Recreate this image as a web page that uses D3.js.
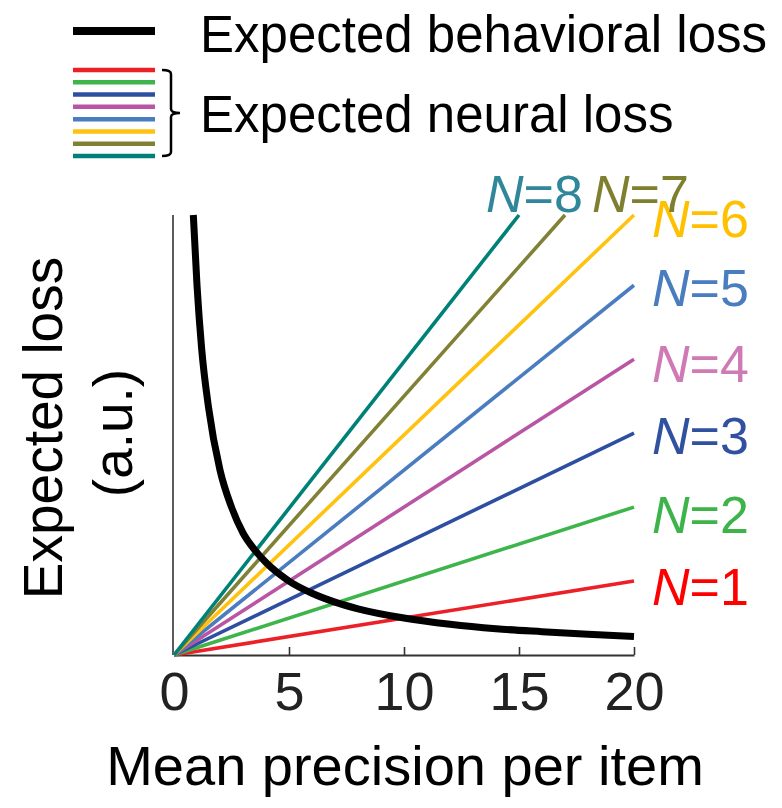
<!DOCTYPE html>
<html>
<head>
<meta charset="utf-8">
<script src="https://cdn.jsdelivr.net/npm/d3@7"></script>
<style>
    body { margin: 0; background: #fff; }
    text { font-family: "Liberation Sans", Arial, Helvetica, sans-serif; }
</style>
</head>
<body>
<div id="chart"></div>
<script>
// set size N for each neural loss line
var setSizes = [1, 2, 3, 4, 5, 6, 7, 8];
var lineColors = ["#ec2027", "#3db54a", "#2e4ea1", "#b956a4", "#4a7dc0", "#ffc20e", "#818135", "#008177"];
var labelColors = ["#ff0000", "#3cb44a", "#3050a0", "#cf7ab5", "#4a7cc0", "#ffc000", "#7f7f30", "#2f8799"];
// where each neural line ends (mean precision, loss)
var neuralEndX = [20, 20, 20, 20, 20, 20, 17, 15];
var neuralEndY = [20, 40, 60, 80, 100, 119, 119, 119];

// expected behavioral loss
var behavX = [0.84, 1, 1.2, 1.5, 2, 2.5, 3, 3.5, 4, 5, 6, 7, 8, 10, 12, 14, 16, 18, 20];
var behavY = [119, 100, 83, 67, 50, 40, 33, 28.5, 25, 20, 16.7, 14.3, 12.5, 10, 8.3, 7.1, 6.3, 5.6, 5];

var xTicks = [0, 5, 10, 15, 20];

var width = 782, height = 808;

var svg = d3.select("#chart")
            .append("svg")
                .attr("width", width)
                .attr("height", height);

var x = d3.scaleLinear().domain([0, 20]).range([174, 634]);
var y = d3.scaleLinear().domain([0, 119]).range([655, 215]);

// axes
svg.append("line")
    .attr("x1", 173).attr("x2", 173)
    .attr("y1", y(119)).attr("y2", y(0))
    .attr("stroke", "#333").attr("stroke-width", 1.6);

var xAxis = svg.append("g")
    .attr("transform", "translate(0," + y(0) + ")")
    .call(d3.axisBottom(x).tickValues(xTicks).tickSizeInner(-8).tickSizeOuter(0).tickPadding(55));
xAxis.select(".domain").attr("stroke", "#333").attr("stroke-width", 2);
xAxis.selectAll(".tick line").attr("stroke", "#333").attr("stroke-width", 1.6)
    .filter(function(d) { return d === 0; }).remove();
xAxis.selectAll(".tick text")
    .attr("font-size", 54)
    .attr("fill", "#222")
    .attr("dy", 0)
    .style("font-family", '"Liberation Sans", Arial, sans-serif');

// neural loss lines
var neural = setSizes.map(function(n, i) {
    return {n: n, color: lineColors[i], label: labelColors[i], x1: neuralEndX[i], y1: neuralEndY[i]};
});

svg.append("g")
    .selectAll("line")
    .data(neural)
    .enter()
    .append("line")
        .attr("x1", x(0)).attr("y1", y(0))
        .attr("x2", function(d) { return x(d.x1); })
        .attr("y2", function(d) { return y(d.y1); })
        .attr("stroke", function(d) { return d.color; })
        .attr("stroke-width", 3.6);

// behavioral loss curve
var behav = behavX.map(function(v, i) { return [v, behavY[i]]; });
svg.append("path")
    .datum(behav)
    .attr("fill", "none")
    .attr("stroke", "#000")
    .attr("stroke-width", 7)
    .attr("d", d3.line()
        .x(function(d) { return x(d[0]); })
        .y(function(d) { return y(d[1]); })
        .curve(d3.curveMonotoneX));

// N labels: offsets from the end of each line
var labelDx = [18, 18, 18, 18, 18, 18, 27, -33];
var labelDy = [24, 26, 21, 23, 21, 22, -3, -3];
var labels = svg.append("g")
    .selectAll("text")
    .data(neural)
    .enter()
    .append("text")
        .attr("x", function(d, i) { return x(d.x1) + labelDx[i]; })
        .attr("y", function(d, i) { return y(d.y1) + labelDy[i]; })
        .attr("font-size", 52)
        .attr("fill", function(d) { return d.label; });
labels.append("tspan").attr("font-style", "italic").text("N");
labels.append("tspan").text(function(d) { return "=" + d.n; });

// axis titles
svg.append("text")
    .attr("x", 405).attr("y", 785)
    .attr("text-anchor", "middle")
    .attr("font-size", 56)
    .text("Mean precision per item");

svg.append("text")
    .attr("transform", "translate(62,428) rotate(-90)")
    .attr("text-anchor", "middle")
    .attr("font-size", 55)
    .text("Expected loss");
svg.append("text")
    .attr("transform", "translate(132,433) rotate(-90)")
    .attr("text-anchor", "middle")
    .attr("font-size", 55)
    .text("(a.u.)");

// legend
var legend = svg.append("g");
legend.append("line")
    .attr("x1", 73).attr("x2", 155).attr("y1", 31).attr("y2", 31)
    .attr("stroke", "#000").attr("stroke-width", 8);
legend.append("text")
    .attr("x", 200).attr("y", 52)
    .attr("font-size", 51)
    .text("Expected behavioral loss");

var legendY = d3.scaleLinear().domain([0, 7]).range([70, 156]);
legend.selectAll(".leg")
    .data(neural)
    .enter()
    .append("line")
        .attr("class", "leg")
        .attr("x1", 73).attr("x2", 155)
        .attr("y1", function(d, i) { return legendY(i); })
        .attr("y2", function(d, i) { return legendY(i); })
        .attr("stroke", function(d) { return d.color; })
        .attr("stroke-width", 4.5);

// bracket
legend.append("path")
    .attr("d", "M162,70 Q171,70 171,74 L171,109 Q171,113 180,113 Q171,113 171,117 L171,152 Q171,156 162,156")
    .attr("fill", "none")
    .attr("stroke", "#000")
    .attr("stroke-width", 2.5);

legend.append("text")
    .attr("x", 200).attr("y", 132)
    .attr("font-size", 51)
    .text("Expected neural loss");
</script>
</body>
</html>
